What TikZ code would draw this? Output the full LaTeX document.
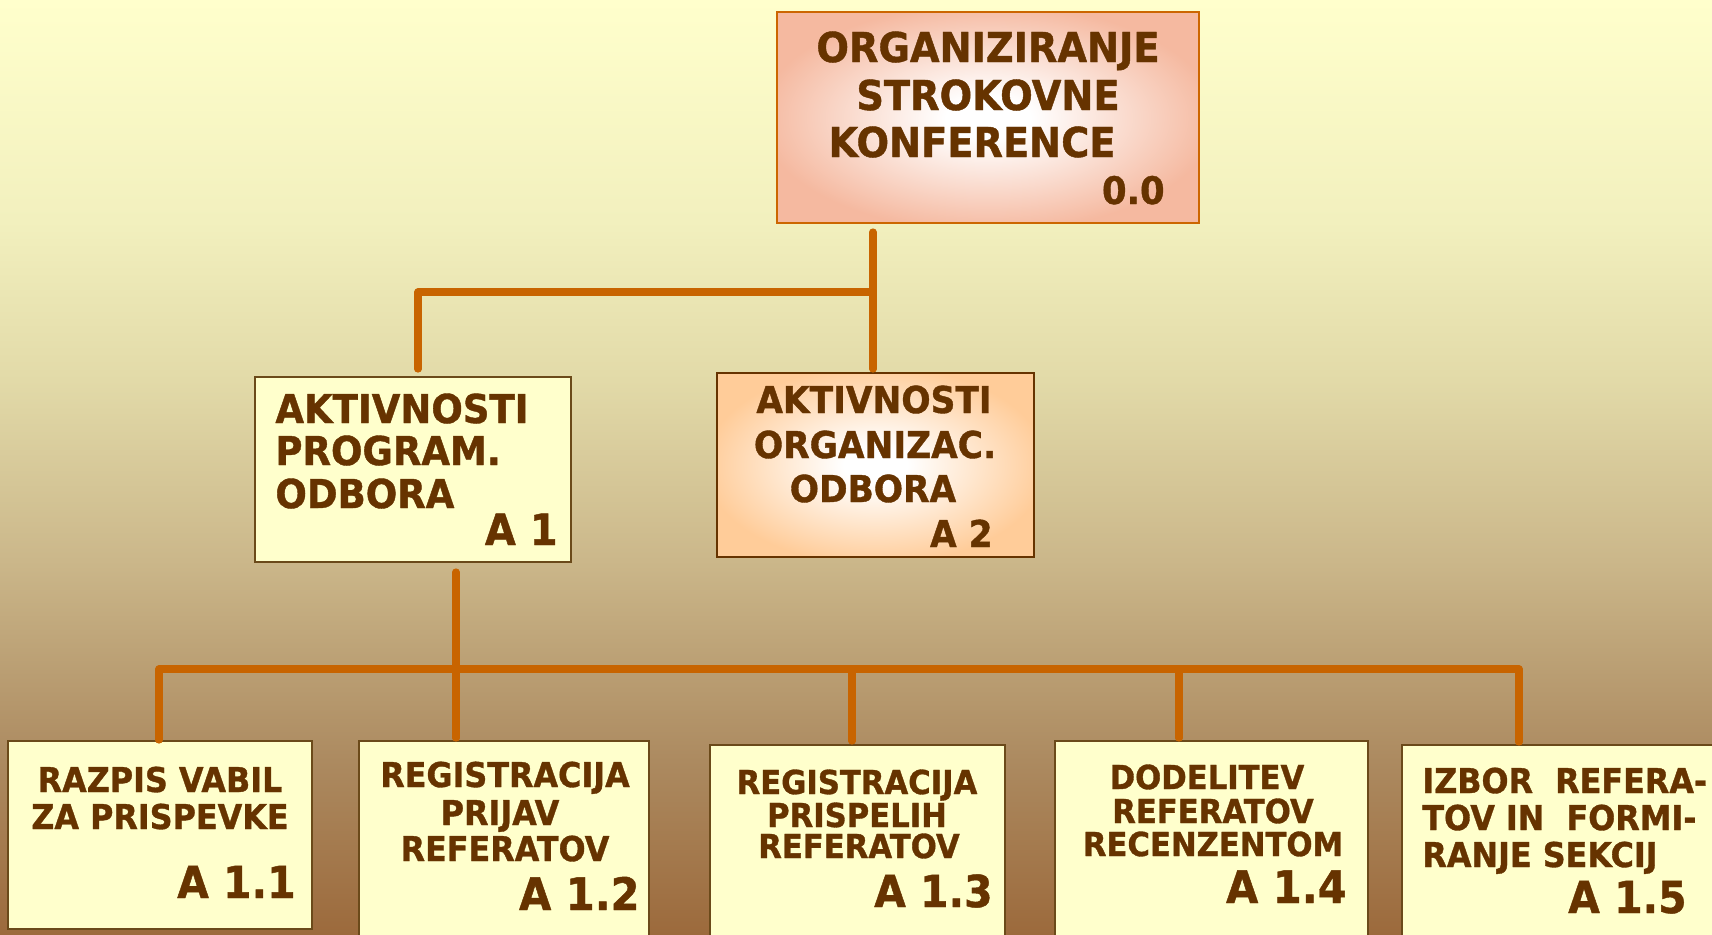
\documentclass[tikz,border=0pt]{standalone}
\usepackage{fontspec}
\newfontfamily\lblfont[FakeStretch=0.93, BoldFeatures={FakeBold=1}]{DejaVu Sans}
\usetikzlibrary{calc}

\definecolor{ink}{HTML}{663300}
\definecolor{wire}{HTML}{C86400}
\definecolor{paper}{HTML}{FFFFCC}
\definecolor{salmon}{HTML}{F5B9A0}
\definecolor{peach}{HTML}{FFCC99}
\definecolor{rimT}{HTML}{CC6600}
\definecolor{rimA}{HTML}{663300}
\definecolor{rimB}{HTML}{6B4A1A}
\definecolor{bgA}{HTML}{9C6A3C}
\definecolor{bgB}{HTML}{AC8A60}
\definecolor{bgC}{HTML}{CBB78A}
\definecolor{bgD}{HTML}{E2DAA8}
\definecolor{bgE}{HTML}{F2F0BE}
\definecolor{bgF}{HTML}{FFFFCC}

% background fade; the filled path spans 25bp (bottom) to 75bp (top)
\pgfdeclareverticalshading{bgfade}{100bp}{color(0bp)=(bgA); color(25bp)=(bgA);
  color(34.3bp)=(bgB); color(45bp)=(bgC); color(54.65bp)=(bgD); color(63.2bp)=(bgE);
  color(75bp)=(bgF); color(100bp)=(bgF)}
% soft glows for the highlighted boxes (25bp reaches the box edge)
\pgfdeclareradialshading{glowT}{\pgfpoint{0bp}{0bp}}{color(0bp)=(white); color(5bp)=(white);
  color(27bp)=(salmon); color(50bp)=(salmon)}
\pgfdeclareradialshading{glowA}{\pgfpoint{0bp}{0bp}}{color(0bp)=(white); color(5bp)=(white);
  color(27bp)=(peach); color(50bp)=(peach)}

\tikzset{
  lbl/.style={font={\lblfont\bfseries\fontsize{#1pt}{#1pt}\selectfont}, text=ink, inner sep=0pt},
  mid/.style={lbl=#1, anchor=base},
  lft/.style={lbl=#1, anchor=base west},
  code/.style={lbl=#1, anchor=base east},
  card/.style={rectangle, anchor=north west, inner sep=0pt, outer sep=0pt},
  topcard/.style={card, draw=rimT, line width=1.1pt, shading=glowT},
  midcard/.style={card, draw=rimA, line width=1.3pt, shading=glowA},
  plaincard/.style={card, draw=rimB, line width=0.8pt, fill=paper},
  conn/.style={draw=wire, line width=3.6pt, line cap=round, line join=round},
}

\begin{document}
\begin{tikzpicture}[x=0.5pt, y=-0.5pt]
\useasboundingbox (0,0) rectangle (1712,934);
\clip (0,0) rectangle (1712,934);
\fill[shading=bgfade] (0,0) rectangle (1712,934);

% boxes
\node[topcard, minimum width=211pt, minimum height=105.5pt] (T) at (777,12) {};
\node[plaincard, minimum width=158pt, minimum height=92.5pt] (A1) at (255,377) {};
\node[midcard, minimum width=158.5pt, minimum height=92pt] (A2) at (717,373) {};
\node[plaincard, minimum width=152pt, minimum height=94pt] (B1) at (8,741) {};
\node[plaincard, minimum width=145pt, minimum height=110pt] (B2) at (359,741) {};
\node[plaincard, minimum width=147.5pt, minimum height=110pt] (B3) at (710,745) {};
\node[plaincard, minimum width=156.5pt, minimum height=110pt] (B4) at (1055,741) {};
\node[plaincard, minimum width=165pt, minimum height=110pt] (B5) at (1402,745) {};

% top level
\node[mid=20.6] (t1) at (988,62) {ORGANIZIRANJE};
\node[mid=20.6] (t2) at (988,110) {STROKOVNE};
\node[mid=20.6] (t3) at (972,157) {KONFERENCE};
\node[code=19] (tc) at (1165,204) {0.0};

% programme committee
\node[lft=19.9] (a11) at (275,423) {AKTIVNOSTI};
\node[lft=19.9] (a12) at (275,465) {PROGRAM.};
\node[lft=19.9] (a13) at (275,508) {ODBORA};
\node[code=21.5] (a1c) at (558,545) {A 1};

% organising committee
\node[mid=18.5] (a21) at (874,413) {AKTIVNOSTI};
\node[mid=18.5] (a22) at (875,458) {ORGANIZAC.};
\node[mid=18.5] (a23) at (873,502) {ODBORA};
\node[code=18.5] (a2c) at (993,547) {A 2};

% activities
\node[mid=17.1] (b11) at (160,792) {RAZPIS VABIL};
\node[mid=17.1] (b12) at (160,829) {ZA PRISPEVKE};
\node[code=22] (b1c) at (296,898) {A 1.1};

\node[mid=17.1] (b21) at (505,787) {REGISTRACIJA};
\node[mid=17.1] (b22) at (500,825) {PRIJAV};
\node[mid=17.1] (b23) at (505,861) {REFERATOV};
\node[code=22.4] (b2c) at (640,910) {A 1.2};

\node[mid=16.5] (b31) at (857,794) {REGISTRACIJA};
\node[mid=16.5] (b32) at (857,827) {PRISPELIH};
\node[mid=16.5] (b33) at (859,858) {REFERATOV};
\node[code=22] (b3c) at (993,907) {A 1.3};

\node[mid=16.5] (b41) at (1207,789) {DODELITEV};
\node[mid=16.5] (b42) at (1213,823) {REFERATOV};
\node[mid=16.5] (b43) at (1213,856) {RECENZENTOM};
\node[code=22.4] (b4c) at (1347,903) {A 1.4};

\node[lft=17.1] (b51) at (1422,793) {IZBOR\ \ REFERA-};
\node[lft=17.1] (b52) at (1422,830) {TOV IN\ \ FORMI-};
\node[lft=17.1] (b53) at (1422,867) {RANJE SEKCIJ};
\node[code=22] (b5c) at (1687,913) {A 1.5};

% connector junctions
\coordinate (j0) at (873,292);
\coordinate (hub) at (456,669);
\coordinate (d1) at (159,669);
\coordinate (d3) at (852,669);
\coordinate (d4) at (1179,669);
\coordinate (d5) at (1519,669);

% upper tree
\draw[conn] ($(j0 |- T.south)+(0,9)$) -- ($(j0 |- A2.north)+(0,-4)$);
\draw[conn] ($(A1.north west)+(163,-8)$) |- (j0);

% lower tree
\draw[conn] ($(hub |- A1.south)+(0,10)$) -- ($(hub |- B2.north)+(0,-3)$);
\draw[conn] ($(d1 |- B1.north)+(0,-1)$) -- (d1) -- (d5) -- ($(d5 |- B5.north)+(0,-3)$);
\draw[conn] (d3) -- ($(d3 |- B3.north)+(0,-4)$);
\draw[conn] (d4) -- ($(d4 |- B4.north)+(0,-3)$);
\end{tikzpicture}
\end{document}
